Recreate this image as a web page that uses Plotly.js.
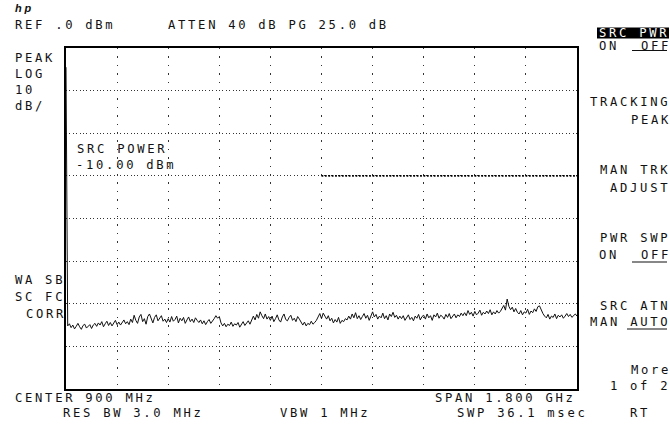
<!DOCTYPE html>
<html>
<head>
<meta charset="utf-8">
<script src="https://cdn.plot.ly/plotly-3.0.1.min.js"></script>
<style>
  html, body { margin: 0; padding: 0; background: #fff; }
  #chart { width: 670px; height: 430px; }
  .annotation-text { letter-spacing: 2.7px; }
</style>
</head>
<body>
<div id="chart"></div>
<script>
// Sweep settings of the analyzer display
const centerMHz = 900;
const spanMHz = 1800;
const refLevel = 0;        // dBm, top graticule line
const dbPerDiv = 10;
const numDivY = 8;
const numDivX = 10;

// Trace amplitude in dBm: LO feedthrough at the start, then the noise floor
const traceDbm = [
  -4.5,
  -65.2,-64.7,-65.6,-65.0,-65.9,-65.3,-64.6,-65.4,-66.0,-65.1,-64.8,-65.7,-65.2,-64.9,-65.8,-65.0,-64.6,
  -65.3,-64.5,-65.0,-64.2,-65.4,-64.7,-64.1,-65.1,-64.4,-65.2,-64.6,-63.9,-64.9,-64.3,-65.0,-64.5,-63.8,-64.7,-64.2,-64.9,
  -63.6,-64.4,-62.7,-63.9,-64.6,-63.1,-62.5,-64.2,-63.5,-64.8,-63.0,-62.4,-63.7,-64.5,-63.2,-62.6,-64.0,-63.4,-62.8,-64.1,-63.6,-64.4,
  -63.5,-64.3,-63.0,-64.1,-63.7,-62.9,-64.5,-63.4,-64.0,-63.2,-64.6,-63.8,-63.1,-64.2,-63.6,-64.4,-63.3,-63.9,
  -64.4,-63.8,-64.7,-64.0,-64.9,-64.2,-63.7,-64.6,-64.1,-63.5,-62.8,-63.4,-63.0,
  -64.5,-65.2,-64.6,-65.4,-64.8,-65.1,-64.3,-65.3,-64.7,-65.0,-64.4,-65.5,-64.9,-64.2,-65.1,-64.6,-64.0,-64.8,
  -63.7,-62.9,-63.8,-62.5,-63.4,-61.9,-62.8,-63.5,-62.4,-63.6,-63.0,
  -63.9,-62.9,-64.2,-63.5,-62.6,-63.8,-64.3,-63.1,-62.4,-63.7,-64.0,-63.2,-62.7,-63.9,-63.4,-64.2,-63.0,-63.6,
  -64.5,-65.0,-64.3,-65.2,-64.6,-64.9,-64.1,-64.8,-64.4,-63.9,
  -63.1,-62.3,-63.5,-62.2,-62.9,-63.6,-62.8,
  -64.0,-63.4,-64.5,-63.7,-64.3,-63.2,-64.6,-63.9,-64.2,-63.5,-63.8,
  -62.9,-63.6,-62.4,-63.3,-62.1,-63.5,-62.8,-63.7,-63.0,-62.3,-63.4,-62.7,-63.9,-62.6,-61.9,-63.1,
  -62.5,-63.6,-62.9,-63.3,-62.2,-63.5,-62.8,-63.8,-62.4,-63.0,-62.0,-63.2,-62.7,-63.6,-62.9,
  -63.5,-62.8,-63.9,-63.1,-62.6,-63.7,-63.2,-64.0,-62.9,-63.4,-62.5,-63.8,-63.0,-62.7,-63.6,-62.4,-63.3,-62.8,-63.9,
  -62.6,-63.1,-62.2,-63.4,-62.7,-63.0,-63.6,-62.5,-63.2,-62.3,-63.5,-62.9,-62.4,-63.3,-62.6,-63.0,-62.2,-62.8,
  -62.1,-62.8,-61.6,-62.5,-62.0,-62.9,-61.8,-62.6,-62.2,-61.5,-62.7,-62.0,-62.4,-61.7,-62.3,-61.4,-62.6,-61.9,-62.4,-61.6,-62.2,-61.8,
  -61.2,-60.4,-61.5,-58.9,-60.6,-61.4,-60.8,-61.9,-61.1,-62.0,
  -62.4,-61.6,-62.6,-61.9,-62.2,-61.3,-62.5,-61.7,-62.1,-61.2,-61.8,-60.7,-60.5,-61.6,
  -62.3,-62.9,-63.3,-62.5,-63.6,-62.9,-63.2,-62.4,-63.5,-62.7,-63.1,-62.6,-63.4,-62.9,-62.3,-63.0,-62.5,-63.2,-62.8,-62.4,-62.9
];

// Display line level and the frequency where it starts
const displayLineDbm = -30;
const displayLineStartMHz = 900;

// Screen annotations
const headerLeft = "REF .0 dBm";
const headerMid = "ATTEN 40 dB PG 25.0 dB";
const scaleLabels = ["PEAK", "LOG", "10", "dB/"];
const modeLabels = ["WA SB", "SC FC", "CORR"];
const srcPowerLabels = ["SRC POWER", "-10.00 dBm"];
const footerLabels = ["CENTER 900 MHz", "RES BW 3.0 MHz", "VBW 1 MHz", "SPAN 1.800 GHz", "SWP 36.1 msec"];
const softkeys = ["SRC PWR", "TRACKING", "PEAK", "MAN TRK", "ADJUST", "PWR SWP", "SRC ATN", "More", "1 of 2", "RT"];

// Frequency of each sweep point
const startMHz = centerMHz - spanMHz / 2;
const stopMHz = centerMHz + spanMHz / 2;
const freqMHz = traceDbm.map((_, i) => startMHz + i * spanMHz / (traceDbm.length - 1));

// Plot-area geometry in pixels
const W = 670, H = 430;
const L = 66, R = 577, T = 48, B = 389;
const px = x => (x - L) / (R - L);
const py = y => (B - y) / (B - T);

const FONT = { family: "DejaVu Sans Mono, monospace", size: 12.2, color: "#111" };
const ADV = 0.602 * 12.2 + 2.7;   // monospace advance incl. letter spacing

function label(text, x, y, extra) {
  return Object.assign({
    text: text, xref: "paper", yref: "paper",
    x: px(x), y: py(y), xanchor: "left", yanchor: "middle",
    showarrow: false, font: FONT, borderpad: 0
  }, extra || {});
}
// right-aligned label: start computed from the monospace advance
function labelR(text, right, y, extra) {
  return label(text, right - text.length * ADV + 2.7, y, extra);
}

const RX = 667; // right edge of softkey text

const annotations = [
  label("<i><b>hp</b></i>", 14, 8, { font: { family: "Liberation Sans", size: 11, color: "#111" } }),
  label(headerLeft, 14, 25),
  label(headerMid, 167, 25),
  label(scaleLabels[0], 14, 58),
  label(scaleLabels[1], 14, 74),
  label(scaleLabels[2], 14, 90),
  label(scaleLabels[3], 14, 106),
  labelR(modeLabels[0], 62, 280),
  labelR(modeLabels[1], 62, 297),
  labelR(modeLabels[2], 62, 314),
  label(srcPowerLabels[0], 76, 149),
  label(srcPowerLabels[1], 75, 165),
  label(footerLabels[0], 14, 397.5),
  label(footerLabels[1], 62, 412.5),
  label(footerLabels[2], 279, 412.5),
  label(footerLabels[3], 434, 397.5),
  label(footerLabels[4], 456, 412.5),
  label(softkeys[0], 598, 32.5, { font: Object.assign({}, FONT, { color: "#fff" }) }),
  label("ON", 598, 45.5),
  labelR("OFF", RX, 45.5),
  labelR(softkeys[1], RX, 102),
  labelR(softkeys[2], RX, 120),
  labelR(softkeys[3], RX, 170),
  labelR(softkeys[4], RX, 188),
  labelR(softkeys[5], RX, 238),
  label("ON", 598, 255),
  labelR("OFF", RX, 255),
  labelR(softkeys[6], RX, 306),
  labelR("MAN AUTO", RX, 322),
  labelR(softkeys[7], RX, 370),
  labelR(softkeys[8], RX, 386),
  label(softkeys[9], 629, 412.5)
];

function underline(x0, x1, y) {
  return { type: "line", xref: "paper", yref: "paper",
    x0: px(x0), x1: px(x1), y0: py(y), y1: py(y),
    line: { color: "#111", width: 1.2 } };
}

const shapes = [
  // highlighted softkey title
  { type: "rect", xref: "paper", yref: "paper", x0: px(597), x1: px(669), y0: py(27.5), y1: py(38.5),
    fillcolor: "#000", line: { width: 0 }, layer: "below" },
  underline(632, 667, 50.5),
  underline(632, 667, 262),
  underline(627, 667, 329)
];

const traces = [
  {
    type: "scatter", mode: "lines",
    x: freqMHz, y: traceDbm,
    line: { color: "#111", width: 1 },
    hoverinfo: "skip"
  },
  {
    type: "scatter", mode: "lines",
    x: [displayLineStartMHz, stopMHz], y: [displayLineDbm, displayLineDbm],
    line: { color: "#000", width: 1.8, dash: "1.8px,1.6px" },
    hoverinfo: "skip"
  }
];

const layout = {
  width: W, height: H,
  margin: { l: L, r: W - R, t: T, b: H - B, pad: 0 },
  paper_bgcolor: "#fff", plot_bgcolor: "#fff",
  showlegend: false,
  xaxis: {
    range: [startMHz, stopMHz], dtick: spanMHz / numDivX, tick0: startMHz,
    showticklabels: false, ticks: "", zeroline: false,
    showgrid: true, gridcolor: "#333", gridwidth: 1, griddash: "1.4px,7px",
    showline: true, mirror: true, linecolor: "#000", linewidth: 2
  },
  yaxis: {
    range: [refLevel - dbPerDiv * numDivY, refLevel], dtick: dbPerDiv, tick0: refLevel,
    showticklabels: false, ticks: "", zeroline: false,
    showgrid: true, gridcolor: "#333", gridwidth: 1, griddash: "1px,2.4px",
    showline: true, mirror: true, linecolor: "#000", linewidth: 2
  },
  annotations: annotations,
  shapes: shapes
};

Plotly.newPlot("chart", traces, layout, { displayModeBar: false, staticPlot: true });
</script>
</body>
</html>
